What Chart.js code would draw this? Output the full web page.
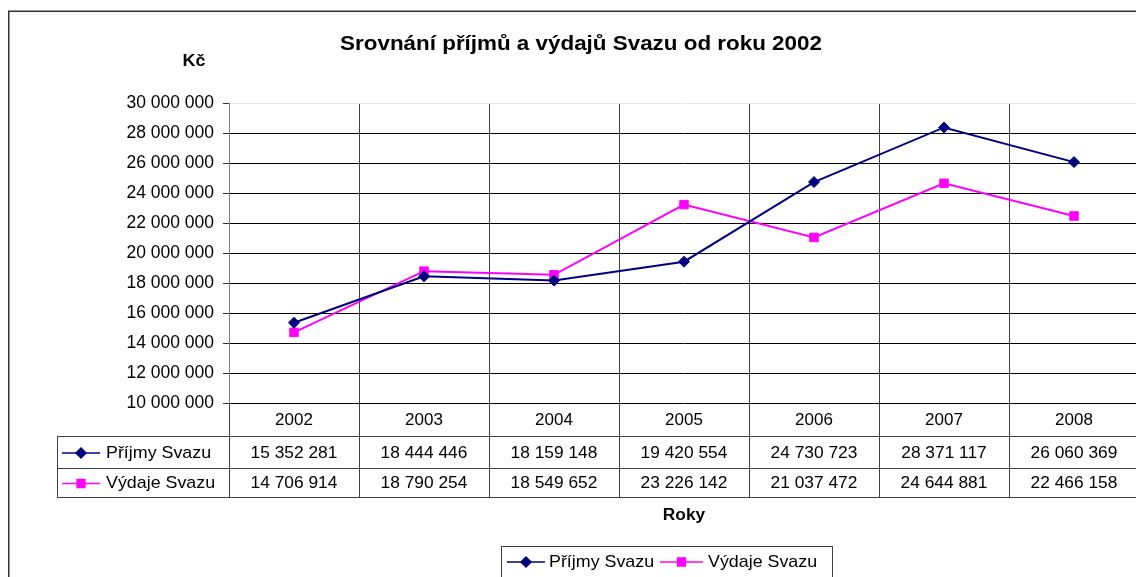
<!DOCTYPE html>
<html lang="cs">
<head>
  <meta charset="UTF-8" />
  <title>Srovnání příjmů a výdajů Svazu od roku 2002</title>
  <script src="https://cdn.jsdelivr.net/npm/chart.js"></script>
  <style>
    html, body { margin: 0; padding: 0; background: #fff; overflow: hidden; }
    #wrap { position: relative; width: 1160px; height: 577px; }
  </style>
</head>
<body>
  <div id="wrap">
    <canvas id="graf" width="1160" height="577"></canvas>
  </div>

  <script>
    const roky = ['2002', '2003', '2004', '2005', '2006', '2007', '2008'];
    const prijmy = [15352281, 18444446, 18159148, 19420554, 24730723, 28371117, 26060369];
    const vydaje = [14706914, 18790254, 18549652, 23226142, 21037472, 24644881, 22466158];
    const nazvySerii = ['Příjmy Svazu', 'Výdaje Svazu'];
    const titulek = 'Srovnání příjmů a výdajů Svazu od roku 2002';
    const popisY = 'Kč';
    const popisX = 'Roky';

    const barvaPrijmy = '#000080';
    const barvaVydaje = '#ff00ff';
    const pismo = 'Arial, "Liberation Sans", sans-serif';

    function formatCislo(n) {
      return String(n).replace(/\B(?=(\d{3})+(?!\d))/g, ' ');
    }

    // text roztažený vodorovně (originál je mírně roztažený)
    function text(ctx, t, x, y, roztah) {
      ctx.save();
      ctx.translate(x, y);
      ctx.scale(roztah, 1);
      ctx.fillText(t, 0, 0);
      ctx.restore();
    }

    function symbol(ctx, x1, x2, y, barva, tvar) {
      ctx.save();
      ctx.strokeStyle = barva;
      ctx.fillStyle = barva;
      ctx.lineWidth = 1.5;
      ctx.beginPath();
      ctx.moveTo(x1, y);
      ctx.lineTo(x2, y);
      ctx.stroke();
      Chart.helpers.drawPoint(ctx, {
        pointStyle: tvar, radius: tvar === 'rect' ? 5.5 : 5, rotation: 0, borderWidth: 1
      }, (x1 + x2) / 2, y);
      ctx.restore();
    }

    // titulek, popisky os, tabulka dat a legenda
    const doplnky = {
      id: 'doplnky',
      afterDraw(chart) {
        const ctx = chart.ctx;
        const area = chart.chartArea;
        const sx = chart.scales.x;
        const sirka = sx.getPixelForValue(1) - sx.getPixelForValue(0);
        const tabTop = 436, tabMid = 468, tabBottom = 497, tabLeft = 57;

        ctx.save();
        // okraj grafu
        ctx.strokeStyle = '#333';
        ctx.lineWidth = 1.5;
        ctx.strokeRect(8.75, 11.25, 1300, 700);

        ctx.fillStyle = '#000';
        ctx.textBaseline = 'middle';
        ctx.textAlign = 'center';
        ctx.font = 'bold 20px ' + pismo;
        text(ctx, titulek, 581, 44, 1.12);
        ctx.font = 'bold 16px ' + pismo;
        text(ctx, popisY, 194, 62, 1.12);
        text(ctx, popisX, 684, 516, 1.08);

        // mřížka tabulky
        ctx.strokeStyle = '#404040';
        ctx.lineWidth = 1;
        ctx.beginPath();
        [tabTop, tabMid, tabBottom].forEach(y => {
          ctx.moveTo(tabLeft, y + 0.5);
          ctx.lineTo(area.right + 30, y + 0.5);
        });
        ctx.moveTo(tabLeft + 0.5, tabTop);
        ctx.lineTo(tabLeft + 0.5, tabBottom);
        for (let i = 0; i <= roky.length; i++) {
          const x = Math.round(sx.getPixelForValue(i) - sirka / 2) + 0.5;
          ctx.moveTo(x, area.bottom);
          ctx.lineTo(x, tabBottom);
        }
        ctx.stroke();

        // hodnoty
        ctx.font = '17px ' + pismo;
        ctx.fillStyle = '#000';
        const radky = [prijmy, vydaje];
        const yRadku = [453, 483.5];
        radky.forEach((rada, r) => {
          rada.forEach((v, i) => {
            text(ctx, formatCislo(v), sx.getPixelForValue(i), yRadku[r], 1.02);
          });
        });

        // záhlaví řádků
        ctx.textAlign = 'left';
        const barvy = [barvaPrijmy, barvaVydaje];
        const tvary = ['rectRot', 'rect'];
        nazvySerii.forEach((nazev, r) => {
          symbol(ctx, 62, 100, yRadku[r], barvy[r], tvary[r]);
          ctx.fillStyle = '#000';
          text(ctx, nazev, 106, yRadku[r], 1.05);
        });

        // legenda
        ctx.strokeStyle = '#404040';
        ctx.strokeRect(501.5, 546.5, 331, 60);
        const leg = [[507, 545, 549], [660, 703, 708]];
        nazvySerii.forEach((nazev, r) => {
          symbol(ctx, leg[r][0], leg[r][1], 562, barvy[r], tvary[r]);
          ctx.fillStyle = '#000';
          text(ctx, nazev, leg[r][2], 562, 1.05);
        });
        ctx.restore();
      }
    };

    new Chart(document.getElementById('graf'), {
      type: 'line',
      data: {
        labels: roky,
        datasets: [
          {
            label: nazvySerii[0],
            data: prijmy,
            borderColor: barvaPrijmy,
            backgroundColor: barvaPrijmy,
            borderWidth: 2,
            pointStyle: 'rectRot',
            pointRadius: 5.5,
            pointBorderWidth: 1,
            tension: 0
          },
          {
            label: nazvySerii[1],
            data: vydaje,
            borderColor: barvaVydaje,
            backgroundColor: barvaVydaje,
            borderWidth: 2,
            pointStyle: 'rect',
            pointRadius: 6,
            pointBorderWidth: 1,
            tension: 0
          }
        ]
      },
      options: {
        responsive: false,
        animation: false,
        layout: { padding: { left: 0, top: 103, right: 21, bottom: 0 } },
        plugins: {
          legend: { display: false },
          title: { display: false },
          tooltip: { enabled: false }
        },
        scales: {
          x: {
            offset: true,
            grid: { offset: true, color: '#404040', drawTicks: false },
            border: { display: false },
            ticks: { color: '#000', font: { family: pismo, size: 17 }, padding: 7 },
            afterFit(scale) { scale.height = 174; }
          },
          y: {
            min: 10000000,
            max: 30000000,
            ticks: {
              stepSize: 2000000,
              color: '#000',
              padding: 9,
              font: { family: pismo, size: 17.5 },
              callback: v => formatCislo(v)
            },
            grid: {
              color: c => (c.tick && c.tick.value === 30000000) ? '#e4e4e4' : '#000',
              tickColor: '#333',
              tickLength: 6
            },
            border: { color: '#808080' },
            afterFit(scale) { scale.width = 229; }
          }
        }
      },
      plugins: [doplnky]
    });
  </script>
</body>
</html>
